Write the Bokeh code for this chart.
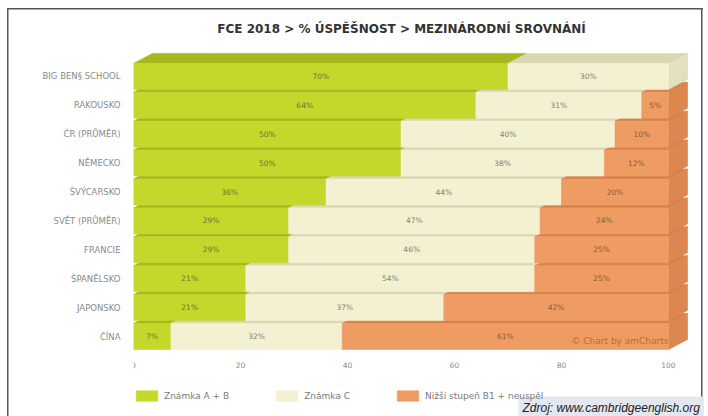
from bokeh.plotting import figure
from bokeh.models import (ColumnDataSource, Range1d, FixedTicker, Label, Legend,
                          LegendItem)
from bokeh.core.properties import value
from bokeh.embed import file_html
from bokeh.resources import INLINE

# ---- data ----
categories = ["BIG BEN§ SCHOOL", "RAKOUSKO", "ČR (PRŮMĚR)", "NĚMECKO", "ŠVÝCARSKO",
              "SVĚT (PRŮMĚR)", "FRANCIE", "ŠPANĚLSKO", "JAPONSKO", "ČÍNA"]
grade_ab = [70, 64, 50, 50, 36, 29, 29, 21, 21, 7]
grade_c = [30, 31, 40, 38, 44, 47, 46, 54, 37, 32]
lower = [0, 5, 10, 12, 20, 24, 25, 25, 42, 61]
series_names = ["Známka A + B", "Známka C", "Nižší stupeň B1 + neuspěl"]
x_ticks = [0, 20, 40, 60, 80, 100]
title_text = "FCE 2018 > % ÚSPĚŠNOST > MEZINÁRODNÍ SROVNÁNÍ"
source_text = "Zdroj: www.cambridgeenglish.org"
credit_text = "© Chart by amCharts"

# ---- styles ----
front_colors = ["#c4d72b", "#f4f1d3", "#ef9c62"]
top_colors = ["#a6b81d", "#dad7b2", "#d6824b"]
side_colors = ["#b2c422", "#e3e0bf", "#dc8750"]
label_colors = ["#6d7330", "#85826a", "#8a5a38"]

PX_X = 5.35   # px per x unit
PX_Y = 28.9   # px per row
DX = 19 / PX_X
DY = 10 / PX_Y
H = 0.45
FRAME_TOP, FRAME_LEFT = 20, 133
BOTTOM_ROW_PX = 336   # page y of the last row centre

n = len(categories)
series = [grade_ab, grade_c, lower]

xs, ys, fills, lines = [], [], [], []
tx, ty, tt, tc = [], [], [], []
legend_index = {}
for i in range(n - 1, -1, -1):
    yc = n - 1 - i
    vals = [s[i] for s in series]
    starts = [sum(vals[:k]) for k in range(3)]
    segs = [(k, starts[k], starts[k] + vals[k]) for k in range(3) if vals[k] > 0]
    for k, x0, x1 in segs:
        xs.append([x0, x1, x1 + DX, x0 + DX])
        ys.append([yc + H, yc + H, yc + H + DY, yc + H + DY])
        fills.append(top_colors[k]); lines.append(top_colors[k])
    k, x0, x1 = segs[-1]
    xs.append([x1, x1 + DX, x1 + DX, x1])
    ys.append([yc - H, yc - H + DY, yc + H + DY, yc + H])
    fills.append(side_colors[k]); lines.append(top_colors[k])
    for k, x0, x1 in segs:
        legend_index.setdefault(k, len(xs))
        xs.append([x0, x1, x1, x0])
        ys.append([yc - H, yc - H, yc + H, yc + H])
        fills.append(front_colors[k]); lines.append(front_colors[k])
        tx.append((x0 + x1) / 2); ty.append(yc)
        tt.append(f"{vals[k]}%"); tc.append(label_colors[k])

faces = ColumnDataSource(dict(xs=xs, ys=ys, fill=fills, line=lines))
texts = ColumnDataSource(dict(x=tx, y=ty, t=tt, c=tc))

frame_bg = ("linear-gradient(#555,#555) 7px 8px / 1.5px 100% no-repeat, "
            "linear-gradient(#555,#555) 7px 8px / 696px 1.5px no-repeat, "
            "linear-gradient(#555,#555) 701px 8px / 1.5px 100% no-repeat, #ffffff")

W, HGT = 708, 416
y_min = -(HGT - BOTTOM_ROW_PX) / PX_Y
y_max = (BOTTOM_ROW_PX - FRAME_TOP) / PX_Y

p = figure(width=W, height=HGT, output_backend="svg", toolbar_location=None,
           x_axis_location="above",
           x_range=Range1d(0, (W - FRAME_LEFT) / PX_X), y_range=Range1d(y_min, y_max),
           min_border_left=FRAME_LEFT, min_border_right=0, min_border_top=FRAME_TOP,
           min_border_bottom=0, styles={"background": frame_bg})
p.background_fill_alpha = 0
p.border_fill_alpha = 0
p.outline_line_color = None
p.grid.visible = False

r = p.patches("xs", "ys", source=faces, fill_color="fill", line_color="line",
              line_width=0.6)
p.text("x", "y", text="t", source=texts, text_color="c", text_font=value("DejaVu Sans"),
       text_font_size="7.5px", text_align="center", text_baseline="middle")

# x axis: drawn just under the bars
p.xaxis.fixed_location = -(377 - BOTTOM_ROW_PX) / PX_Y
p.xaxis.ticker = FixedTicker(ticks=x_ticks)
p.xaxis.axis_line_color = None
p.xaxis.major_tick_line_color = None
p.xaxis.minor_tick_line_color = None
p.xaxis.major_label_standoff = 4
p.xaxis.major_label_text_font = "DejaVu Sans"
p.xaxis.major_label_text_font_size = "7.5px"
p.xaxis.major_label_text_color = "#8a8a8a"

p.yaxis.ticker = FixedTicker(ticks=list(range(n)))
p.yaxis.major_label_overrides = {n - 1 - i: categories[i] for i in range(n)}
p.yaxis.axis_line_color = None
p.yaxis.major_tick_line_color = None
p.yaxis.minor_tick_line_color = None
p.yaxis.major_label_standoff = 7
p.yaxis.major_label_text_font = "DejaVu Sans"
p.yaxis.major_label_text_font_size = "8.5px"
p.yaxis.major_label_text_color = "#8a8a8a"

items = [LegendItem(label=series_names[k], renderers=[r], index=legend_index[k])
         for k in range(3)]
legend = Legend(items=items, location=(0, 14), orientation="horizontal",
                glyph_width=27, glyph_height=13, label_height=13,
                label_text_font="DejaVu Sans", label_text_font_size="9px",
                label_text_color="#7a7a7a", label_standoff=4, spacing=44,
                background_fill_alpha=0, border_line_color=None,
                padding=0, margin=0)
p.add_layout(legend)

p.add_layout(Label(x=401 - FRAME_LEFT, y=HGT - 28, x_units="screen", y_units="screen",
                   text=title_text, text_font="DejaVu Sans", text_font_style="bold",
                   text_font_size="12px", text_color="#333333", text_align="center",
                   text_baseline="middle"))

p.add_layout(Label(x=668 - FRAME_LEFT, y=HGT - 340, x_units="screen", y_units="screen",
                   text=credit_text, text_font="DejaVu Sans", text_font_size="9px",
                   text_color="#c06a35", text_align="right", text_baseline="middle"))

p.add_layout(Label(x=518 - FRAME_LEFT, y=HGT - 407, x_units="screen", y_units="screen",
                   text=source_text, text_font="Liberation Sans",
                   text_font_style="italic", text_font_size="12px", text_color="#222222",
                   text_align="left", text_baseline="middle",
                   background_fill_color="#e3e7ef", padding=4))

open("out.html", "w").write(file_html(p, INLINE))
